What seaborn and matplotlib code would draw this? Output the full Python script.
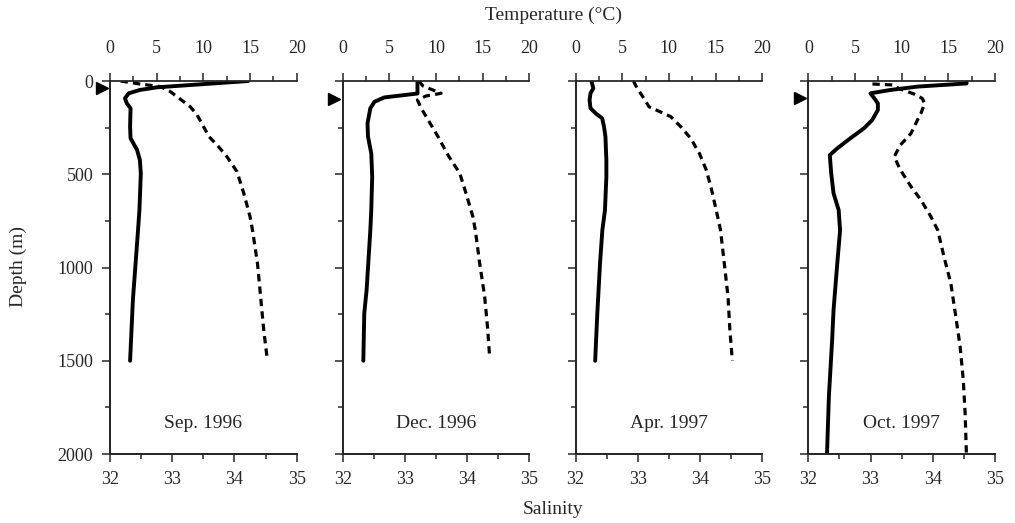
"""CTD profiles: temperature (solid) and salinity (dashed) vs depth"""
import matplotlib
matplotlib.use('Agg')
import matplotlib.pyplot as plt
import matplotlib.transforms as mtransforms
from matplotlib.ticker import MultipleLocator
import seaborn as sns

# --- data ---
panels = ['Sep. 1996', 'Dec. 1996', 'Apr. 1997', 'Oct. 1997']

sep96_t_depth = [0, 34, 48, 66, 93, 120, 146, 245, 307, 370, 424, 495, 692, 800, 1174, 1500]
sep96_temp = [14.8, 5.0, 3.2, 2.0, 1.6, 1.8, 2.2, 2.15, 2.2, 2.9, 3.2, 3.3, 3.15, 3.0, 2.45, 2.15]
sep96_s_depth = [0, 16, 30, 57, 138, 182, 298, 343, 406, 486, 602, 727, 800, 978, 1156, 1335, 1500]
sep96_sal = [32.17, 32.48, 32.81, 32.97, 33.29, 33.40, 33.59, 33.72, 33.88, 34.04, 34.15,
             34.25, 34.29, 34.37, 34.42, 34.47, 34.53]

dec96_t_depth = [0, 67, 88, 111, 146, 227, 298, 388, 513, 692, 800, 1121, 1246, 1500]
dec96_temp = [8.0, 8.0, 4.45, 3.4, 2.95, 2.65, 2.7, 3.05, 3.15, 3.05, 2.95, 2.55, 2.3, 2.2]
dec96_s_depth = [0, 27, 66, 80, 102, 146, 191, 298, 397, 495, 602, 727, 800, 978, 1156, 1335, 1480]
dec96_sal = [33.22, 33.29, 33.58, 33.34, 33.20, 33.26, 33.34, 33.53, 33.69, 33.88, 33.98,
             34.09, 34.13, 34.20, 34.28, 34.33, 34.36]

apr97_t_depth = [0, 39, 66, 102, 146, 173, 200, 245, 298, 424, 513, 692, 800, 978, 1246, 1500]
apr97_temp = [1.7, 1.9, 1.6, 1.5, 1.6, 2.15, 2.85, 3.05, 3.2, 3.3, 3.3, 3.15, 2.87, 2.62, 2.33, 2.1]
apr97_s_depth = [0, 39, 84, 138, 159, 191, 245, 307, 388, 477, 575, 692, 800, 978, 1156, 1335, 1500]
apr97_sal = [32.93, 32.99, 33.08, 33.18, 33.32, 33.53, 33.69, 33.85, 33.99, 34.10, 34.18,
             34.26, 34.33, 34.39, 34.45, 34.48, 34.52]

oct97_t_depth = [0, 13, 30, 48, 66, 88, 120, 155, 209, 254, 307, 361, 397, 495, 602, 692,
                 800, 978, 1228, 1389, 1693, 2000]
oct97_temp = [16.95, 16.95, 11.7, 8.8, 6.65, 7.0, 7.45, 7.45, 6.85, 5.95, 4.5, 3.1, 2.3,
              2.45, 2.7, 3.25, 3.4, 3.1, 2.7, 2.55, 2.2, 2.0]
oct97_s_depth = [16, 21, 30, 70, 93, 120, 173, 191, 281, 343, 406, 477, 566, 638, 727, 800,
                 942, 1085, 1264, 1425, 1603, 1782, 2000]
oct97_sal = [33.03, 33.35, 33.38, 33.70, 33.83, 33.87, 33.81, 33.78, 33.65, 33.48, 33.38,
             33.48, 33.65, 33.81, 33.97, 34.08, 34.18, 34.29, 34.37, 34.44, 34.49, 34.52, 34.54]

# mixed layer depth markers (none for Apr. 1997)
mld = [40, 98, None, 91]

temps = [(sep96_t_depth, sep96_temp), (dec96_t_depth, dec96_temp),
         (apr97_t_depth, apr97_temp), (oct97_t_depth, oct97_temp)]
sals = [(sep96_s_depth, sep96_sal), (dec96_s_depth, dec96_sal),
        (apr97_s_depth, apr97_sal), (oct97_s_depth, oct97_sal)]

sns.set_style('ticks')
plt.rcParams['font.family'] = ['Liberation Serif', 'DejaVu Serif']
plt.rcParams['font.size'] = 14

fig, axes = plt.subplots(1, 4, figsize=(10.15, 5.23), dpi=100, sharey=True)
fig.subplots_adjust(left=0.1084, right=0.9803, bottom=0.1319, top=0.8451, wspace=0.247)

for i, ax in enumerate(axes):
    ax2 = ax.twiny()
    sd, sv = sals[i]
    td, tv = temps[i]
    sns.lineplot(x=sv, y=sd, ax=ax, orient='y', sort=False, estimator=None,
                 color='black', lw=2.3, ls=(0, (2.3, 1.6)))
    sns.lineplot(x=tv, y=td, ax=ax2, orient='y', sort=False, estimator=None,
                 color='black', lw=2.8)

    ax.set_xlim(32, 35)
    ax2.set_xlim(0, 20)
    ax.set_ylim(2000, 0)
    ax.xaxis.set_major_locator(MultipleLocator(1))
    ax.xaxis.set_minor_locator(MultipleLocator(0.5))
    ax2.xaxis.set_major_locator(MultipleLocator(5))
    ax2.xaxis.set_minor_locator(MultipleLocator(2.5))
    ax.yaxis.set_major_locator(MultipleLocator(500))
    ax.yaxis.set_minor_locator(MultipleLocator(250))

    for a in (ax, ax2):
        a.set_xlabel('')
        a.set_ylabel('')
        a.spines['right'].set_visible(False)
        for s in a.spines.values():
            s.set_linewidth(1.3)
        a.tick_params(which='major', length=6, width=1.1, direction='out')
        a.tick_params(which='minor', length=3.5, width=1.1, direction='out')
    ax.spines['top'].set_visible(False)
    ax.tick_params(axis='x', pad=6, labelsize=13)
    ax2.tick_params(axis='x', pad=11, labelsize=13)
    ax.tick_params(axis='y', labelsize=13, pad=6)
    if i > 0:
        ax.tick_params(axis='y', labelleft=False)

    ax.text(0.5, 0.083, panels[i], transform=ax.transAxes, ha='center', va='center',
            fontsize=14)

    if mld[i] is not None:
        trans = mtransforms.blended_transform_factory(ax.transAxes, ax.transData)
        ax.plot([-0.045], [mld[i]], marker='>', color='black', markersize=8,
                transform=trans, clip_on=False, ls='none')

fig.text(0.545, 0.971, 'Temperature (\u00b0C)', ha='center', va='center', fontsize=14)
fig.text(0.545, 0.025, 'Salinity', ha='center', va='center', fontsize=14)
fig.text(0.018, 0.49, 'Depth (m)', ha='center', va='center', rotation=90, fontsize=14)

plt.savefig('out.png', dpi=100)
